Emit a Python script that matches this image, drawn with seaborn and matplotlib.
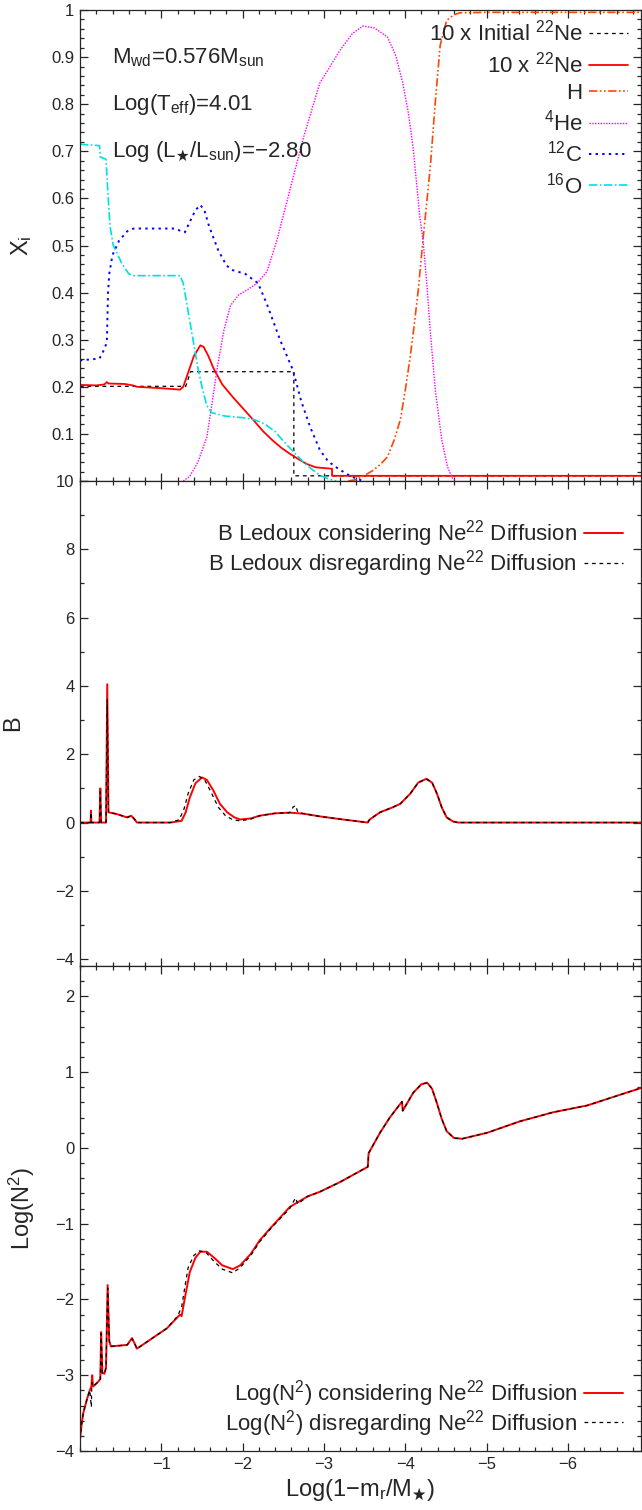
import seaborn as sns
import matplotlib.pyplot as plt
from matplotlib.ticker import MultipleLocator, FixedLocator

# ---------------------------------------
# 1. Data
# ---------------------------------------
# top panel: mass fractions X_i vs Log(1-m_r/M*)
ne_init_x = [0.0, -1.30, -1.36, -2.63, -2.63, -6.9]
ne_init_y = [0.201, 0.201, 0.232, 0.232, 0.011, 0.011]

ne_x = [0.0, -0.20, -0.30, -0.33, -0.35, -0.55, -0.65, -0.70, -1.00, -1.23, -1.27, -1.33,
        -1.40, -1.48, -1.52, -1.58, -1.64, -1.75, -1.88, -2.00, -2.13, -2.25, -2.37, -2.48,
        -2.58, -2.70, -2.79, -2.90, -3.10, -3.10, -6.9]
ne_y = [0.204, 0.203, 0.205, 0.210, 0.207, 0.206, 0.203, 0.200, 0.197, 0.194, 0.200, 0.230,
        0.265, 0.288, 0.285, 0.265, 0.240, 0.205, 0.178, 0.155, 0.130, 0.106, 0.086, 0.070,
        0.058, 0.045, 0.036, 0.029, 0.026, 0.011, 0.011]

h_x = [-3.30, -3.40, -3.48, -3.60, -3.70, -3.78, -3.86, -3.94, -4.00, -4.06, -4.11, -4.16,
       -4.22, -4.27, -4.31, -4.37, -4.43, -4.51, -4.60, -4.67, -5.00, -6.9]
h_y = [0.0, 0.003, 0.010, 0.022, 0.036, 0.051, 0.085, 0.130, 0.192, 0.262, 0.330, 0.405,
       0.515, 0.600, 0.670, 0.805, 0.925, 0.978, 0.990, 0.994, 0.995, 0.995]

he_x = [-1.27, -1.35, -1.45, -1.56, -1.62, -1.69, -1.77, -1.85, -1.95, -2.05, -2.18, -2.30,
        -2.42, -2.60, -2.75, -2.95, -3.20, -3.35, -3.48, -3.62, -3.78, -3.88, -3.97, -4.04,
        -4.10, -4.18, -4.22, -4.27, -4.31, -4.37, -4.45, -4.52, -4.58, -4.62]
he_y = [0.0, 0.010, 0.040, 0.093, 0.160, 0.242, 0.320, 0.372, 0.395, 0.405, 0.420, 0.445,
        0.510, 0.630, 0.730, 0.845, 0.915, 0.950, 0.966, 0.962, 0.943, 0.905, 0.845, 0.780,
        0.703, 0.560, 0.510, 0.410, 0.314, 0.193, 0.087, 0.030, 0.006, 0.0]

c_x = [0.0, -0.24, -0.30, -0.33, -0.345, -0.36, -0.40, -0.48, -0.58, -0.66, -1.17, -1.25,
       -1.29, -1.35, -1.42, -1.48, -1.53, -1.58, -1.62, -1.70, -1.80, -1.87, -2.03, -2.19,
       -2.30, -2.46, -2.62, -2.72, -2.83, -2.95, -3.05, -3.16, -3.28, -3.36, -3.48]
c_y = [0.256, 0.260, 0.280, 0.295, 0.400, 0.440, 0.480, 0.510, 0.530, 0.536, 0.536, 0.530,
       0.528, 0.550, 0.575, 0.586, 0.575, 0.545, 0.526, 0.490, 0.458, 0.448, 0.440, 0.420,
       0.375, 0.300, 0.235, 0.170, 0.115, 0.066, 0.042, 0.028, 0.015, 0.008, 0.0]

o_x = [0.0, -0.24, -0.25, -0.32, -0.34, -0.37, -0.41, -0.52, -0.60, -0.65, -1.23, -1.27,
       -1.33, -1.39, -1.45, -1.50, -1.56, -1.62, -1.78, -2.03, -2.15, -2.28, -2.40, -2.50,
       -2.62, -2.75, -2.83, -2.95, -3.05, -3.15]
o_y = [0.715, 0.712, 0.688, 0.683, 0.620, 0.540, 0.500, 0.460, 0.440, 0.436, 0.436, 0.420,
       0.360, 0.300, 0.240, 0.200, 0.160, 0.145, 0.138, 0.134, 0.130, 0.120, 0.105, 0.085,
       0.063, 0.040, 0.028, 0.012, 0.005, 0.0]

# middle panel: Ledoux term B
b_on_x = [0.0, -0.13, -0.135, -0.14, -0.24, -0.25, -0.26, -0.32, -0.335, -0.35, -0.45,
          -0.58, -0.63, -0.67, -0.70, -1.11, -1.25, -1.30, -1.35, -1.42, -1.50, -1.56,
          -1.64, -1.72, -1.81, -1.90, -1.97, -2.10, -2.21, -2.40, -2.58, -2.75, -2.95,
          -3.20, -3.54, -3.55, -3.57, -3.69, -3.84, -3.94, -4.06, -4.16, -4.26, -4.33,
          -4.39, -4.45, -4.51, -4.59, -4.65, -6.9]
b_on_y = [0.0, 0.0, 0.35, 0.0, 0.0, 1.0, 0.0, 0.0, 4.05, 0.30, 0.25,
          0.15, 0.20, 0.10, 0.0, 0.0, 0.05, 0.30, 0.73, 1.15, 1.32, 1.25,
          0.94, 0.55, 0.30, 0.15, 0.09, 0.12, 0.20, 0.27, 0.29, 0.26, 0.18,
          0.10, 0.0, 0.05, 0.10, 0.30, 0.44, 0.55, 0.84, 1.17, 1.28, 1.17,
          0.85, 0.44, 0.15, 0.03, 0.0, 0.0]

b_off_x = [0.0, -0.13, -0.135, -0.14, -0.24, -0.25, -0.26, -0.32, -0.335, -0.35, -0.45,
           -0.58, -0.63, -0.67, -0.70, -1.11, -1.22, -1.28, -1.33, -1.40, -1.47, -1.54,
           -1.62, -1.70, -1.79, -1.88, -1.97, -2.10, -2.21, -2.40, -2.58, -2.62, -2.65,
           -2.68, -2.75, -2.95, -3.20, -3.54, -3.55, -3.57, -3.69, -3.84, -3.94, -4.06,
           -4.16, -4.26, -4.33, -4.39, -4.45, -4.51, -4.59, -4.65, -6.9]
b_off_y = [0.0, 0.0, 0.30, 0.0, 0.0, 0.9, 0.0, 0.0, 3.60, 0.30, 0.25,
           0.15, 0.20, 0.10, 0.0, 0.0, 0.08, 0.40, 0.85, 1.25, 1.35, 1.22,
           0.85, 0.45, 0.20, 0.08, 0.05, 0.10, 0.20, 0.27, 0.29, 0.45, 0.50,
           0.30, 0.26, 0.18, 0.10, 0.0, 0.05, 0.10, 0.30, 0.44, 0.55, 0.84,
           1.17, 1.28, 1.17, 0.85, 0.44, 0.15, 0.03, 0.0, 0.0]

# bottom panel: Log(N^2)
n_on_x = [0.0, -0.02, -0.04, -0.09, -0.12, -0.14, -0.15, -0.16, -0.22, -0.25, -0.26,
          -0.275, -0.30, -0.32, -0.34, -0.36, -0.38, -0.58, -0.64, -0.68, -0.70, -1.07,
          -1.23, -1.25, -1.29, -1.35, -1.42, -1.48, -1.56, -1.65, -1.75, -1.88, -1.97,
          -2.10, -2.21, -2.35, -2.58, -2.80, -2.95, -3.20, -3.54, -3.55, -3.69, -3.81,
          -3.96, -3.97, -4.10, -4.20, -4.27, -4.33, -4.39, -4.45, -4.51, -4.60, -4.70,
          -5.01, -5.41, -5.82, -6.24, -6.64, -6.9]
n_on_y = [-3.85, -3.65, -3.50, -3.30, -3.20, -3.15, -3.00, -3.15, -3.09, -3.05, -2.43,
          -2.97, -2.98, -2.90, -1.81, -2.55, -2.62, -2.60, -2.51, -2.60, -2.65, -2.38,
          -2.20, -2.22, -1.98, -1.64, -1.45, -1.37, -1.37, -1.45, -1.55, -1.60, -1.55,
          -1.40, -1.22, -1.05, -0.78, -0.64, -0.58, -0.45, -0.25, -0.07, 0.20, 0.40,
          0.61, 0.49, 0.73, 0.84, 0.86, 0.78, 0.59, 0.38, 0.22, 0.13, 0.12,
          0.20, 0.35, 0.47, 0.56, 0.70, 0.79]

n_off_x = [0.0, -0.02, -0.04, -0.09, -0.12, -0.14, -0.145, -0.16, -0.22, -0.25, -0.26,
           -0.275, -0.30, -0.32, -0.34, -0.36, -0.38, -0.58, -0.64, -0.68, -0.70, -1.07,
           -1.20, -1.25, -1.28, -1.33, -1.40, -1.47, -1.55, -1.65, -1.75, -1.88, -1.97,
           -2.10, -2.21, -2.35, -2.58, -2.62, -2.65, -2.68, -2.80, -2.95, -3.20, -3.54,
           -3.55, -3.69, -3.81, -3.96, -3.97, -4.10, -4.20, -4.27, -4.33, -4.39, -4.45,
           -4.51, -4.60, -4.70, -5.01, -5.41, -5.82, -6.24, -6.64, -6.9]
n_off_y = [-3.85, -3.65, -3.50, -3.30, -3.20, -3.42, -3.10, -3.15, -3.09, -3.05, -2.45,
           -2.97, -2.98, -2.90, -1.85, -2.55, -2.62, -2.60, -2.52, -2.60, -2.65, -2.38,
           -2.22, -2.10, -1.90, -1.58, -1.42, -1.36, -1.38, -1.50, -1.60, -1.65, -1.58,
           -1.42, -1.24, -1.06, -0.80, -0.72, -0.66, -0.74, -0.64, -0.58, -0.45, -0.25,
           -0.07, 0.20, 0.40, 0.61, 0.49, 0.73, 0.84, 0.86, 0.78, 0.59, 0.38,
           0.22, 0.13, 0.12, 0.20, 0.35, 0.47, 0.56, 0.70, 0.79]

x_ticks = [-1, -2, -3, -4, -5, -6]
# the "0" of the top panel sits under the "10" of the middle panel
x_frac_ticks = [0.0, 0.1, 0.2, 0.3, 0.4, 0.5, 0.6, 0.7, 0.8, 0.9, 1.0]
x_frac_labels = ["", "0.1", "0.2", "0.3", "0.4", "0.5", "0.6", "0.7", "0.8", "0.9", "1"]

# ---------------------------------------
# 2. Style
# ---------------------------------------
sns.set_style("ticks")
plt.rcParams["font.family"] = ["Liberation Sans", "DejaVu Sans"]
plt.rcParams.update({
    "mathtext.fontset": "custom",
    "mathtext.rm": "Liberation Sans",
    "mathtext.it": "Liberation Sans",
    "mathtext.default": "regular",
    "mathtext.fallback": "stixsans",
    "axes.linewidth": 0.9,
})

fig = plt.figure(figsize=(6.42, 15.10), dpi=100)
left, width = 80 / 642, 561 / 642
ax1 = fig.add_axes([left, 1 - 481 / 1510, width, 471 / 1510])
ax2 = fig.add_axes([left, 1 - 966 / 1510, width, 485 / 1510])
ax3 = fig.add_axes([left, 1 - 1451 / 1510, width, 485 / 1510])

legend_kw = dict(frameon=False, fontsize=16, markerfirst=False, handlelength=1.75,
                 handletextpad=0.3, borderaxespad=0.05)


def line(ax, x, y, **kw):
    sns.lineplot(x=x, y=y, ax=ax, sort=False, estimator=None, **kw)


def style_axis(ax):
    ax.set_xlim(0, -6.9)
    ax.xaxis.set_major_locator(FixedLocator(x_ticks))
    ax.xaxis.set_minor_locator(MultipleLocator(0.2))
    ax.tick_params(which="both", direction="in", top=True, right=True,
                   labelsize=12, width=0.9, pad=4)
    ax.tick_params(which="major", length=6)
    ax.tick_params(which="minor", length=3)
    ax.set_xticklabels(["\u2212%d" % -t for t in x_ticks])


# ---------------------------------------
# 3. Top panel: abundances
# ---------------------------------------
line(ax1, ne_init_x, ne_init_y, color="black", lw=0.9, linestyle=(0, (3, 3)),
     label=r"10 x Initial $^{22}$Ne")
line(ax1, ne_x, ne_y, color="#ff0000", lw=1.3, label=r"10 x $^{22}$Ne")
line(ax1, h_x, h_y, color="#ff4500", lw=1.2, linestyle=(0, (5, 1.5, 1, 1.5, 1, 1.5)),
     label="H")
line(ax1, he_x, he_y, color="#ff00ff", lw=1.0, linestyle=(0, (1, 1)),
     label=r"$^{4}$He")
line(ax1, c_x, c_y, color="#0000ff", lw=1.4, linestyle=(0, (1.2, 2.2)),
     label=r"$^{12}$C")
line(ax1, o_x, o_y, color="#00e0e0", lw=1.2, linestyle=(0, (5, 1.5, 1, 1.5)),
     label=r"$^{16}$O")
style_axis(ax1)
ax1.set_ylim(0, 1)
ax1.yaxis.set_major_locator(FixedLocator(x_frac_ticks))
ax1.yaxis.set_minor_locator(MultipleLocator(0.02))
ax1.set_yticklabels(x_frac_labels)
ax1.set_ylabel(r"X$_i$", fontsize=17)
ax1.yaxis.set_label_coords(-0.082, 0.5)
ax1.legend(loc="upper right", bbox_to_anchor=(0.995, 1.0), labelspacing=0.25, **legend_kw)
ax1.text(0.057, 0.887, r"M$_{wd}$=0.576M$_{sun}$", transform=ax1.transAxes, fontsize=16)
ax1.text(0.057, 0.788, r"Log(T$_{eff}$)=4.01", transform=ax1.transAxes, fontsize=16)
ax1.text(0.057, 0.688, r"Log (L$_{\bigstar}$/L$_{sun}$)=$-$2.80", transform=ax1.transAxes,
         fontsize=16)

# ---------------------------------------
# 4. Middle panel: Ledoux B
# ---------------------------------------
line(ax2, b_on_x, b_on_y, color="#ff0000", lw=1.4,
     label=r"B Ledoux considering Ne$^{22}$ Diffusion")
line(ax2, b_off_x, b_off_y, color="black", lw=0.9, linestyle=(0, (3, 3)),
     label=r"B Ledoux disregarding Ne$^{22}$ Diffusion")
style_axis(ax2)
ax2.set_ylim(-4.2, 10)
ax2.yaxis.set_major_locator(FixedLocator([-4, -2, 0, 2, 4, 6, 8, 10]))
ax2.yaxis.set_minor_locator(MultipleLocator(1))
ax2.set_yticklabels(["\u22124", "\u22122", "0", "2", "4", "6", "8", "10"])
ax2.set_ylabel("B", fontsize=17)
ax2.yaxis.set_label_coords(-0.1, 0.5)
ax2.legend(loc="upper right", bbox_to_anchor=(0.985, 0.944), labelspacing=-0.05,
           **legend_kw)

# ---------------------------------------
# 5. Bottom panel: Log(N^2)
# ---------------------------------------
line(ax3, n_on_x, n_on_y, color="#ff0000", lw=1.4,
     label=r"Log(N$^{2}$) considering Ne$^{22}$ Diffusion")
line(ax3, n_off_x, n_off_y, color="black", lw=0.9, linestyle=(0, (3, 3)),
     label=r"Log(N$^{2}$) disregarding Ne$^{22}$ Diffusion")
style_axis(ax3)
ax3.set_ylim(-4, 2.4)
ax3.yaxis.set_major_locator(FixedLocator([-4, -3, -2, -1, 0, 1, 2]))
ax3.yaxis.set_minor_locator(MultipleLocator(0.2))
ax3.set_yticklabels(["\u22124", "\u22123", "\u22122", "\u22121", "0", "1", "2"])
ax3.set_ylabel(r"Log(N$^{2}$)", fontsize=17)
ax3.yaxis.set_label_coords(-0.077, 0.5)
ax3.set_xlabel(r"Log(1$-$m$_r$/M$_{\bigstar}$)", fontsize=17, labelpad=4)
ax3.legend(loc="lower right", bbox_to_anchor=(0.985, 0.005), labelspacing=-0.05,
           **legend_kw)

fig.savefig("out.png", dpi=100)
